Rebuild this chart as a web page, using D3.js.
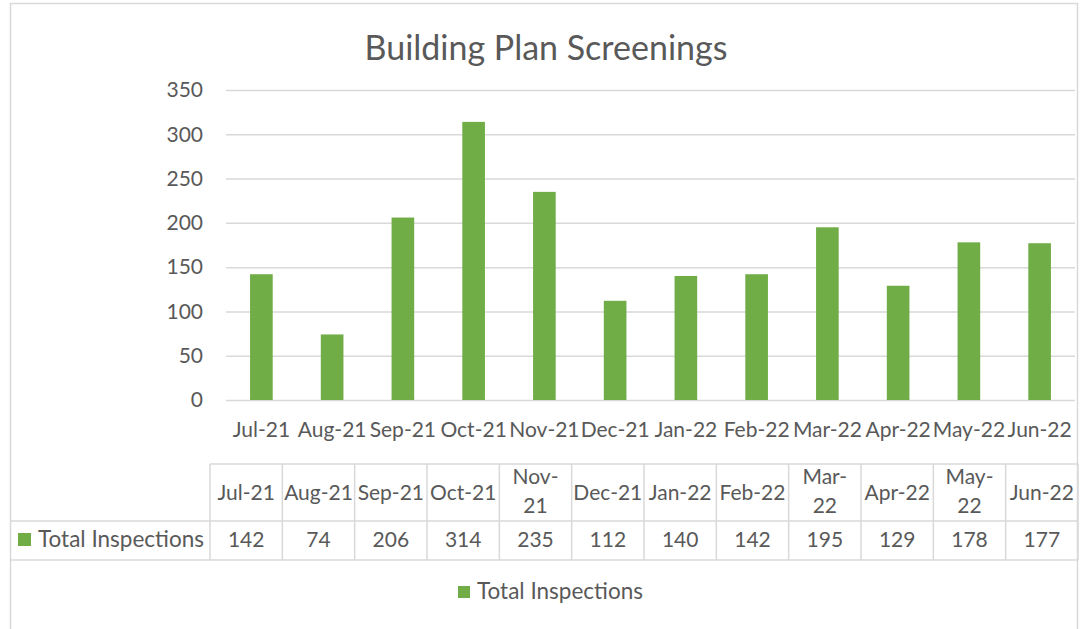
<!DOCTYPE html>
<html>
<head>
<meta charset="utf-8">
<script src="https://cdn.jsdelivr.net/npm/d3@7"></script>
<style>
  body { margin: 0; background: #fff; }
  text { font-family: Lato, "Open Sans", sans-serif; fill: #595959; }
</style>
</head>
<body>
<svg width="1082" height="629"></svg>
<script>
// chart data
var months = ["Jul-21","Aug-21","Sep-21","Oct-21","Nov-21","Dec-21","Jan-22","Feb-22","Mar-22","Apr-22","May-22","Jun-22"];
var inspections = [142, 74, 206, 314, 235, 112, 140, 142, 195, 129, 178, 177];
var yTicks = [0, 50, 100, 150, 200, 250, 300, 350];
// table header text, as wrapped in the data table
var headerLabels = [["Jul-21"],["Aug-21"],["Sep-21"],["Oct-21"],["Nov-","21"],["Dec-21"],["Jan-22"],["Feb-22"],["Mar-","22"],["Apr-22"],["May-","22"],["Jun-22"]];
var seriesName = "Total Inspections";
var title = "Building Plan Screenings";

(function() {
  var green = "#70AD47", grid = "#D9D9D9", fs = "21px";
  var data = months.map(function(m, i) { return { month: m, value: inspections[i], head: headerLabels[i] }; });

  var svg = d3.select("svg");

  // outer chart border
  svg.append("rect")
    .attr("x", 10.5).attr("y", 3.5)
    .attr("width", 1067).attr("height", 660)
    .attr("fill", "#fff").attr("stroke", grid).attr("stroke-width", 1.5);

  svg.append("text")
    .attr("x", 546).attr("y", 60)
    .attr("text-anchor", "middle")
    .style("font-size", "34px")
    .text(title);

  var pLeft = 226, pRight = 1075, pTop = 90, pBottom = 400;

  var x = d3.scaleBand().domain(months).range([pLeft, pRight]).paddingInner(0.68).paddingOuter(0.34);
  var y = d3.scaleLinear().domain([0, 350]).range([pBottom, pTop]);

  // gridlines + y labels
  var yAxis = svg.append("g")
    .attr("transform", "translate(" + pLeft + ",0)")
    .call(d3.axisLeft(y).tickValues(yTicks).tickSize(-(pRight - pLeft)).tickPadding(23));
  yAxis.select(".domain").remove();
  yAxis.selectAll("line").attr("stroke", grid).attr("stroke-width", 1.5);
  yAxis.selectAll("text").style("font-size", fs).attr("fill", "#595959");

  svg.selectAll(".bar")
    .data(data)
    .enter().append("rect")
    .attr("class", "bar")
    .attr("x", function(d) { return x(d.month); })
    .attr("width", x.bandwidth())
    .attr("y", function(d) { return y(d.value); })
    .attr("height", function(d) { return y(0) - y(d.value); })
    .attr("fill", green);

  var xAxis = svg.append("g")
    .attr("transform", "translate(0," + pBottom + ")")
    .call(d3.axisBottom(x).tickSize(0).tickPadding(22));
  xAxis.select(".domain").remove();
  xAxis.selectAll("text").style("font-size", fs).attr("fill", "#595959");

  // data table
  var tLeft = 210, tRight = 1078, tTop = 464, tMid = 521, tBot = 560;
  var col = d3.scaleBand().domain(months).range([tLeft, tRight]);
  var table = svg.append("g");

  table.append("line").attr("x1", tLeft).attr("x2", tRight).attr("y1", tTop).attr("y2", tTop);
  table.append("line").attr("x1", 10).attr("x2", tRight).attr("y1", tMid).attr("y2", tMid);
  table.append("line").attr("x1", 10).attr("x2", tRight).attr("y1", tBot).attr("y2", tBot);
  table.selectAll(".vline")
    .data(months.concat(["end"]))
    .enter().append("line")
    .attr("class", "vline")
    .attr("x1", function(d) { return d === "end" ? tRight : col(d); })
    .attr("x2", function(d) { return d === "end" ? tRight : col(d); })
    .attr("y1", tTop).attr("y2", tBot);
  table.selectAll("line").attr("stroke", grid).attr("stroke-width", 1.5);

  table.selectAll(".head")
    .data(data)
    .enter().append("text")
    .attr("class", "head")
    .attr("text-anchor", "middle")
    .style("font-size", fs)
    .each(function(d) {
      var cx = col(d.month) + col.bandwidth() / 2;
      var t = d3.select(this);
      if (d.head.length === 1) {
        t.attr("x", cx).attr("y", 500).text(d.head[0]);
      } else {
        t.append("tspan").attr("x", cx).attr("y", 484).text(d.head[0]);
        t.append("tspan").attr("x", cx).attr("y", 513).text(d.head[1]);
      }
    });

  table.selectAll(".val")
    .data(data)
    .enter().append("text")
    .attr("class", "val")
    .attr("text-anchor", "middle")
    .style("font-size", fs)
    .attr("x", function(d) { return col(d.month) + col.bandwidth() / 2; })
    .attr("y", 547)
    .text(function(d) { return d.value; });

  table.append("rect").attr("x", 18).attr("y", 533).attr("width", 13).attr("height", 13).attr("fill", green);
  table.append("text").attr("x", 38).attr("y", 547).style("font-size", "22.5px").text(seriesName);

  // legend
  svg.append("rect").attr("x", 458).attr("y", 586).attr("width", 12).attr("height", 12).attr("fill", green);
  svg.append("text").attr("x", 477).attr("y", 599).style("font-size", "22.5px").text(seriesName);
})();
</script>
</body>
</html>
